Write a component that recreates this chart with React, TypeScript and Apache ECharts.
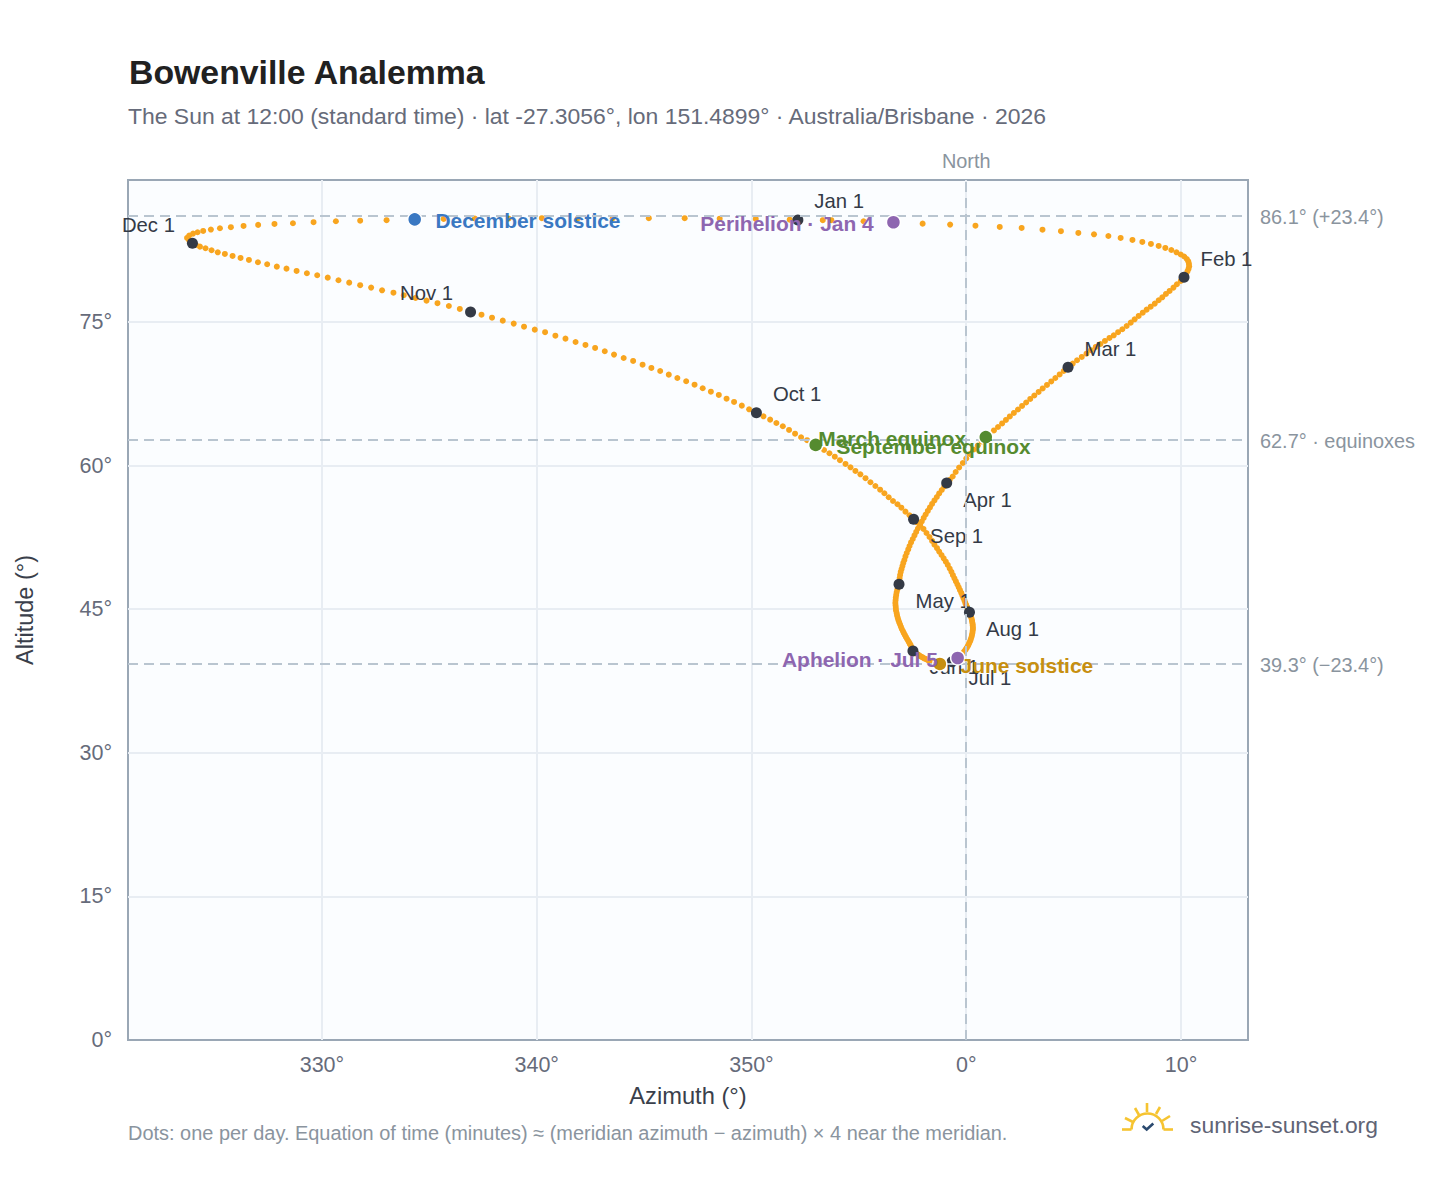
import React, { useEffect, useRef } from "react";
import * as echarts from "echarts";

// Daily sun positions: [azimuth relative to north (deg), altitude (deg)]
const jan = [[-7.84,85.66],[-6.28,85.63],[-4.78,85.52],[-3.39,85.42],[-2.03,85.27],[-0.75,85.17],[0.43,85.06],[1.56,84.93],[2.58,84.82],[3.55,84.64],[4.41,84.48],[5.22,84.30],[5.95,84.16],[6.62,83.98],[7.19,83.78],[7.74,83.57],[8.20,83.36],[8.60,83.15],[8.96,82.94],[9.27,82.73],[9.55,82.52],[9.79,82.28],[9.99,82.05],[10.15,81.84],[10.27,81.58],[10.34,81.32],[10.37,81.06],[10.38,80.80],[10.35,80.54],[10.30,80.28],[10.23,79.96]];
const feb = [[10.14,79.67],[9.99,79.29],[9.81,78.94],[9.65,78.59],[9.47,78.24],[9.30,77.93],[9.13,77.58],[8.96,77.27],[8.78,76.92],[8.59,76.60],[8.40,76.29],[8.22,75.97],[8.03,75.63],[7.84,75.28],[7.66,74.93],[7.47,74.58],[7.27,74.24],[7.07,73.93],[6.87,73.61],[6.67,73.33],[6.46,73.02],[6.25,72.70],[6.03,72.39],[5.81,72.05],[5.60,71.69],[5.38,71.35],[5.16,71.00],[4.96,70.65]];
const mar = [[4.74,70.27],[4.54,69.88],[4.35,69.52],[4.15,69.15],[3.96,68.79],[3.76,68.42],[3.56,68.06],[3.37,67.69],[3.17,67.32],[2.98,66.96],[2.79,66.59],[2.60,66.23],[2.41,65.86],[2.22,65.50],[2.03,65.13],[1.85,64.77],[1.67,64.40],[1.48,64.03],[1.29,63.67],[1.10,63.30],[0.91,62.94],[0.72,62.52],[0.54,62.10],[0.35,61.68],[0.16,61.21],[0.00,60.74],[-0.16,60.27],[-0.33,59.80],[-0.49,59.33],[-0.63,58.86],[-0.77,58.50]];
const apr = [[-0.91,58.18],[-1.02,57.82],[-1.14,57.45],[-1.26,57.09],[-1.37,56.72],[-1.48,56.36],[-1.59,55.99],[-1.69,55.63],[-1.79,55.26],[-1.89,54.89],[-1.98,54.53],[-2.07,54.16],[-2.16,53.80],[-2.25,53.43],[-2.33,53.07],[-2.41,52.70],[-2.49,52.33],[-2.57,51.97],[-2.64,51.60],[-2.70,51.24],[-2.77,50.87],[-2.83,50.51],[-2.88,50.14],[-2.93,49.83],[-2.97,49.51],[-3.01,49.20],[-3.05,48.89],[-3.08,48.57],[-3.10,48.26],[-3.11,47.95]];
const may = [[-3.13,47.60],[-3.17,47.32],[-3.21,47.04],[-3.24,46.76],[-3.26,46.49],[-3.28,46.20],[-3.29,45.93],[-3.30,45.65],[-3.29,45.39],[-3.28,45.13],[-3.27,44.87],[-3.24,44.60],[-3.22,44.35],[-3.19,44.10],[-3.16,43.86],[-3.12,43.62],[-3.08,43.39],[-3.04,43.16],[-3.00,42.93],[-2.95,42.72],[-2.91,42.52],[-2.86,42.31],[-2.81,42.10],[-2.76,41.91],[-2.71,41.73],[-2.67,41.56],[-2.63,41.40],[-2.59,41.24],[-2.55,41.05],[-2.51,40.84],[-2.49,40.74]];
const jun = [[-2.48,40.64],[-2.41,40.53],[-2.35,40.43],[-2.29,40.32],[-2.22,40.23],[-2.16,40.13],[-2.09,40.04],[-2.03,39.96],[-1.96,39.87],[-1.89,39.80],[-1.82,39.73],[-1.76,39.66],[-1.70,39.60],[-1.64,39.55],[-1.58,39.50],[-1.52,39.45],[-1.46,39.41],[-1.40,39.38],[-1.34,39.35],[-1.28,39.33],[-1.23,39.30],[-1.17,39.29],[-1.11,39.29],[-1.05,39.29],[-1.00,39.30],[-0.94,39.31],[-0.88,39.33],[-0.82,39.36],[-0.77,39.40],[-0.71,39.45]];
const jul = [[-0.66,39.52],[-0.60,39.59],[-0.54,39.68],[-0.49,39.79],[-0.40,39.90],[-0.33,40.01],[-0.27,40.13],[-0.20,40.27],[-0.14,40.43],[-0.09,40.59],[-0.03,40.77],[0.02,40.95],[0.07,41.13],[0.11,41.31],[0.15,41.51],[0.19,41.71],[0.22,41.91],[0.25,42.12],[0.27,42.33],[0.29,42.55],[0.30,42.77],[0.31,42.93],[0.31,43.11],[0.30,43.29],[0.30,43.45],[0.28,43.63],[0.27,43.81],[0.25,43.99],[0.23,44.17],[0.20,44.34],[0.18,44.51]];
const aug = [[0.15,44.68],[0.12,44.84],[0.08,45.02],[0.04,45.22],[0.00,45.42],[-0.04,45.63],[-0.08,45.89],[-0.13,46.15],[-0.18,46.42],[-0.23,46.70],[-0.29,46.99],[-0.35,47.28],[-0.41,47.58],[-0.48,47.90],[-0.55,48.22],[-0.62,48.55],[-0.69,48.90],[-0.77,49.25],[-0.86,49.62],[-0.95,49.96],[-1.05,50.31],[-1.15,50.66],[-1.26,51.02],[-1.36,51.37],[-1.48,51.74],[-1.59,52.13],[-1.71,52.54],[-1.85,52.96],[-1.99,53.38],[-2.14,53.77],[-2.29,54.06]];
const sep = [[-2.45,54.39],[-2.64,54.81],[-2.83,55.19],[-3.02,55.60],[-3.20,55.96],[-3.41,56.30],[-3.61,56.69],[-3.81,57.11],[-4.01,57.48],[-4.23,57.87],[-4.46,58.26],[-4.69,58.68],[-4.93,59.09],[-5.16,59.44],[-5.39,59.82],[-5.62,60.17],[-5.88,60.56],[-6.12,60.93],[-6.37,61.29],[-6.62,61.63],[-6.88,61.98],[-7.15,62.33],[-7.41,62.65],[-7.69,62.96],[-7.97,63.33],[-8.25,63.72],[-8.54,64.11],[-8.84,64.45],[-9.13,64.80],[-9.44,65.15]];
const oct = [[-9.77,65.53],[-10.11,65.88],[-10.45,66.26],[-10.81,66.65],[-11.16,66.99],[-11.52,67.38],[-11.89,67.72],[-12.27,68.08],[-12.65,68.45],[-13.04,68.81],[-13.45,69.15],[-13.85,69.50],[-14.25,69.88],[-14.66,70.20],[-15.07,70.54],[-15.51,70.93],[-15.95,71.24],[-16.40,71.59],[-16.83,71.94],[-17.28,72.29],[-17.73,72.60],[-18.19,72.91],[-18.66,73.26],[-19.13,73.57],[-19.61,73.93],[-20.09,74.20],[-20.59,74.51],[-21.07,74.83],[-21.58,75.14],[-22.08,75.45],[-22.57,75.76]];
const nov = [[-23.08,76.05],[-23.58,76.36],[-24.09,76.67],[-24.62,76.96],[-25.13,77.23],[-25.64,77.51],[-26.19,77.79],[-26.67,78.06],[-27.20,78.31],[-27.71,78.59],[-28.22,78.84],[-28.73,79.11],[-29.23,79.36],[-29.73,79.63],[-30.22,79.88],[-30.70,80.09],[-31.18,80.33],[-31.65,80.57],[-32.10,80.78],[-32.55,81.03],[-32.98,81.24],[-33.40,81.48],[-33.79,81.69],[-34.16,81.90],[-34.52,82.11],[-34.85,82.28],[-35.14,82.49],[-35.42,82.70],[-35.68,82.87],[-35.87,83.05]];
const dec = [[-36.03,83.22],[-36.18,83.50],[-36.28,83.78],[-36.18,84.02],[-36.00,84.23],[-35.79,84.37],[-35.53,84.51],[-35.17,84.65],[-34.75,84.79],[-34.24,84.90],[-33.65,85.03],[-32.97,85.14],[-32.21,85.24],[-31.35,85.31],[-30.39,85.42],[-29.35,85.52],[-28.22,85.58],[-26.99,85.63],[-25.68,85.69],[-24.33,85.76],[-22.88,85.81],[-21.30,85.81],[-19.76,85.84],[-18.09,85.81],[-16.46,85.84],[-14.78,85.84],[-13.11,85.84],[-11.48,85.79],[-9.80,85.76],[-8.22,85.69],[-6.68,85.63]];

const monthData = [jan, feb, mar, apr, may, jun, jul, aug, sep, oct, nov, dec];
const monthNames = ["Jan", "Feb", "Mar", "Apr", "May", "Jun", "Jul", "Aug", "Sep", "Oct", "Nov", "Dec"];
const labelsAbove = ["Jan", "Feb", "Mar", "Oct", "Nov", "Dec"];
const labelsOnLeft = ["Nov", "Dec"];

const xTicks = [-30, -20, -10, 0, 10];
const yTicks = [0, 15, 30, 45, 60, 75];
const refLines = [
  { alt: 86.1, text: "86.1° (+23.4°)" },
  { alt: 62.7, text: "62.7° · equinoxes" },
  { alt: 39.3, text: "39.3° (−23.4°)" },
];

const events = [
  { name: "December solstice", az: -25.68, alt: 85.72, color: "#3a78c2", side: "right" },
  { name: "Perihelion · Jan 4", az: -3.39, alt: 85.42, color: "#8e66b0", side: "left" },
  { name: "March equinox", az: 0.91, alt: 62.98, color: "#558b2f", side: "left" },
  { name: "September equinox", az: -7.01, alt: 62.16, color: "#558b2f", side: "right" },
  { name: "June solstice", az: -1.23, alt: 39.28, color: "#c78f10", side: "right" },
  { name: "Aphelion · Jul 5", az: -0.4, alt: 39.9, color: "#8e66b0", side: "left" },
];

const FONT = "'Liberation Sans', Arial, sans-serif";

function App() {
  const ref = useRef<HTMLDivElement>(null);
  useEffect(() => {
    document.body.style.margin = "0";
    const chart = echarts.init(ref.current!, null, { renderer: "svg" });
    const daily = monthData.flat();
    const firsts = monthData.map((m, i) => ({
      value: m[0],
      name: `${monthNames[i]} 1`,
      label: {
        position: [
          labelsOnLeft.includes(monthNames[i]) ? -12 : 22,
          labelsAbove.includes(monthNames[i]) ? -13 : 22,
        ],
        align: labelsOnLeft.includes(monthNames[i]) ? "right" : "left",
        verticalAlign: "middle",
      },
    }));
    const logoColor = "#f6c431";
    const ray = (x1: number, y1: number, x2: number, y2: number) => ({
      type: "line",
      shape: { x1, y1, x2, y2 },
      style: { stroke: logoColor, lineWidth: 2.6 },
    });
    chart.setOption({
      animation: false,
      backgroundColor: "#ffffff",
      textStyle: { fontFamily: FONT },
      title: [
        {
          text: "Bowenville Analemma",
          left: 129,
          top: 55,
          padding: 0,
          textStyle: { fontFamily: FONT, fontSize: 33.8, fontWeight: "bold", color: "#212121" },
        },
        {
          text: "The Sun at 12:00 (standard time) · lat -27.3056°, lon 151.4899° · Australia/Brisbane · 2026",
          left: 128,
          top: 104,
          padding: 0,
          textStyle: { fontFamily: FONT, fontSize: 22.93, fontWeight: "normal", color: "#666b7a" },
        },
      ],
      grid: {
        left: 128,
        top: 180,
        width: 1120,
        height: 860,
        show: true,
        backgroundColor: "#fbfdff",
        borderColor: "#9aa7b5",
        borderWidth: 2,
      },
      xAxis: {
        type: "value",
        min: -39.03,
        max: 13.12,
        name: "Azimuth (°)",
        nameLocation: "middle",
        nameGap: 44,
        nameTextStyle: { fontSize: 23.7, color: "#3a3f4b", fontFamily: FONT },
        axisLine: { show: false },
        axisTick: { show: false, customValues: xTicks },
        axisLabel: {
          customValues: xTicks,
          margin: 14,
          fontSize: 21.5,
          color: "#666b7a",
          fontFamily: FONT,
          formatter: (v: number) => `${(v + 360) % 360}°`,
        },
        splitLine: { show: true, showMinLine: true, showMaxLine: true, lineStyle: { color: "#e8edf3", width: 2 } },
      },
      yAxis: {
        type: "value",
        min: 0,
        max: 89.83,
        name: "Altitude (°)",
        nameLocation: "middle",
        nameGap: 91,
        nameTextStyle: { fontSize: 23.5, color: "#3a3f4b", fontFamily: FONT },
        axisLine: { show: false },
        axisTick: { show: false, customValues: yTicks },
        axisLabel: {
          customValues: yTicks,
          margin: 16,
          fontSize: 21.5,
          color: "#666b7a",
          fontFamily: FONT,
          padding: [3, 0, 0, 0],
          formatter: (v: number) => `${v}°`,
        },
        splitLine: { show: true, showMinLine: false, showMaxLine: true, lineStyle: { color: "#e8edf3", width: 2 } },
      },
      series: [
        {
          type: "scatter",
          name: "reference",
          z: 2,
          data: [],
          silent: true,
          markLine: {
            silent: true,
            symbol: "none",
            animation: false,
            lineStyle: { color: "#b9c5d0", width: 2, type: [10, 6] },
            label: { show: true, fontFamily: FONT, fontSize: 19.9, color: "#8a949e" },
            data: [
              ...refLines.map((r) => ({
                yAxis: r.alt,
                label: { formatter: r.text, position: "end", distance: 12, offset: [0, 1.5] },
              })),
              { xAxis: 0, label: { formatter: "North", position: "end", distance: 9, rotate: 0 } },
            ],
          },
        },
        {
          type: "scatter",
          name: "Daily sun position",
          z: 3,
          symbolSize: 6,
          itemStyle: { color: "#f8a51f", opacity: 1 },
          data: daily,
          silent: true,
        },
        {
          type: "scatter",
          name: "First of month",
          z: 4,
          symbolSize: 11,
          itemStyle: { color: "#343a46", opacity: 1 },
          silent: true,
          label: {
            show: true,
            formatter: "{b}",
            fontFamily: FONT,
            fontSize: 20.3,
            color: "#343a46",
          },
          labelLayout: { hideOverlap: false },
          data: firsts,
        },
        ...events.map((e) => ({
          type: "scatter",
          name: e.name,
          z: 5,
          symbolSize: 14,
          silent: true,
          itemStyle: { color: e.color, opacity: 1, borderColor: "#ffffff", borderWidth: 1.5 },
          label: {
            show: true,
            formatter: e.name,
            position: e.side === "right" ? [28.5, 9] : [-12, 9],
            align: e.side === "right" ? "left" : "right",
            verticalAlign: "middle",
            fontFamily: FONT,
            fontSize: 20.95,
            fontWeight: "bold",
            color: e.color,
          },
          data: [[e.az, e.alt]],
        })),
      ],
      graphic: [
        {
          type: "text",
          left: 128,
          top: 1123,
          style: {
            text: "Dots: one per day. Equation of time (minutes) ≈ (meridian azimuth − azimuth) × 4 near the meridian.",
            font: `19.95px ${FONT}`,
            fill: "#8a949e",
          },
        },
        {
          type: "text",
          left: 1190,
          top: 1113,
          style: { text: "sunrise-sunset.org", font: `22.85px ${FONT}`, fill: "#5f6475" },
        },
        { type: "group", silent: true, children: [
          {
            type: "arc",
            shape: { cx: 1147.5, cy: 1129.5, r: 16, startAngle: Math.PI, endAngle: 2 * Math.PI },
            style: { stroke: logoColor, lineWidth: 2.6, fill: "none" },
          },
          ray(1122, 1129.5, 1131.5, 1129.5),
          ray(1163.5, 1129.5, 1173, 1129.5),
          ray(1147, 1103, 1147, 1112),
          ray(1135, 1108, 1139, 1115),
          ray(1160, 1107, 1156, 1114),
          ray(1125, 1118, 1133, 1122),
          ray(1170, 1116, 1162, 1121),
          {
            type: "polyline",
            shape: { points: [[1142.7, 1126], [1146.7, 1129.5], [1153.3, 1123.5]] },
            style: { stroke: "#2b4a6f", lineWidth: 2.6, fill: "none" },
          },
        ] },
      ],
    });
    return () => chart.dispose();
  }, []);
  return (
    <div
      ref={ref}
      style={{ position: "absolute", left: 0, top: 0, width: 1448, height: 1188 }}
    />
  );
}

export default App;
